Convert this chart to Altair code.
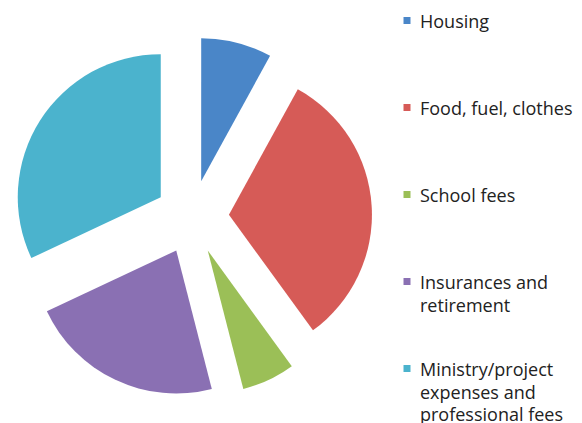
import altair as alt
import pandas as pd

categories = ["Housing", "Food, fuel, clothes", "School fees",
              "Insurances and retirement",
              "Ministry/project expenses and professional fees"]
legend_labels = ["Housing", "Food, fuel, clothes", "School fees",
                 "Insurances and\nretirement",
                 "Ministry/project\nexpenses and\nprofessional fees"]
values = [8, 32, 6, 22, 32]
colors = ["#4a86c8", "#d65b57", "#9bbf57", "#8a70b3", "#4bb3cd"]

df = pd.DataFrame({
    "category": categories,
    "label": legend_labels,
    "value": values,
    "idx": list(range(len(categories))),
})

color = alt.Color("category:N", scale=alt.Scale(domain=categories, range=colors), legend=None)

base = alt.Chart(df)

pie = base.transform_joinaggregate(
    total="sum(value)"
).transform_window(
    cum="sum(value)", sort=[alt.SortField("idx")], frame=[None, 0]
).transform_calculate(
    t1="datum.cum / datum.total * 2 * PI",
    t0="(datum.cum - datum.value) / datum.total * 2 * PI",
).transform_calculate(
    mid="(datum.t0 + datum.t1) / 2",
).transform_calculate(
    px="192 + 37 * sin(datum.mid)",
    py="217 - 37 * cos(datum.mid)",
).mark_arc(outerRadius=143).encode(
    x=alt.X("px:Q", scale=None),
    y=alt.Y("py:Q", scale=None),
    theta=alt.Theta("t0:Q", scale=None, stack=None),
    theta2="t1:Q",
    color=color,
)

squares = base.transform_calculate(
    sx="407",
    sy="20.5 + datum.idx * 87",
).mark_square(size=49, opacity=1).encode(
    x=alt.X("sx:Q", scale=None),
    y=alt.Y("sy:Q", scale=None),
    color=color,
)

texts = base.transform_calculate(
    tx="420",
    ty="28 + datum.idx * 87",
).mark_text(
    align="left", baseline="alphabetic", font="Open Sans", fontSize=18,
    lineBreak="\n", lineHeight=22.5, color="#222222",
).encode(
    x=alt.X("tx:Q", scale=None),
    y=alt.Y("ty:Q", scale=None),
    text="label:N",
)

chart = alt.layer(pie, squares, texts).properties(
    width=582, height=423, padding=0, autosize="none"
).configure_view(stroke=None)

chart.save("out.html", embed_options={"renderer": "svg", "actions": False})
